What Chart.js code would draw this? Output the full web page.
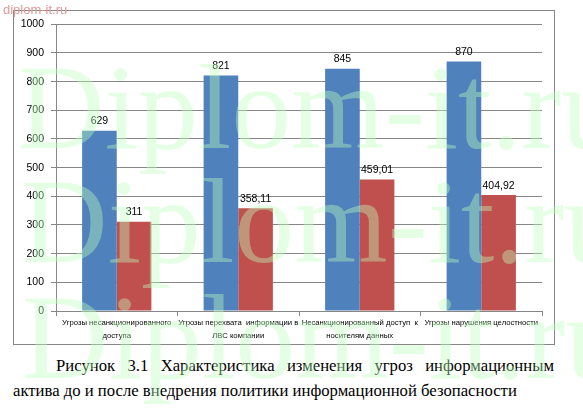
<!DOCTYPE html>
<html>
<head>
<meta charset="utf-8">
<script src="https://cdn.jsdelivr.net/npm/chart.js@4"></script>
<style>
  html, body { margin: 0; padding: 0; background: #fff; width: 583px; height: 409px; overflow: hidden; }
  #box { position: absolute; left: 13px; top: 10px; width: 542px; height: 335px; box-sizing: border-box; border: 1px solid #868686; }
  #box canvas { position: absolute; left: 0; top: 0; }
  .cap { position: absolute; font-family: "Liberation Serif", "Times New Roman", serif; font-size: 16.7px; line-height: 20px; color: #000; white-space: nowrap; }
  #cap1 { left: 56px; top: 356px; width: 498px; text-align: justify; text-align-last: justify; white-space: normal; }
  #cap2 { left: 13px; top: 381px; }
  #wm { position: absolute; left: 0; top: 0; pointer-events: none; }
  #wmSmall { position: absolute; left: 3px; top: 2px; font-family: "Liberation Sans", Arial, sans-serif; font-size: 13px; line-height: 15px; color: #e39a9a; }
</style>
</head>
<body>
<div id="box"><canvas id="c" width="540" height="333"></canvas></div>
<div class="cap" id="cap1">Рисунок 3.1 Характеристика изменения угроз информационным</div>
<div class="cap" id="cap2">актива до и после внедрения политики информационной безопасности</div>
<div id="wmSmall">diplom-it.ru</div>
<canvas id="wm" width="583" height="409"></canvas>
<script>
const categories = [
  ["Угрозы несанкционированного", "доступа"],
  ["Угрозы перехвата  информации в", "ЛВС компании"],
  ["Несанкционированный доступ  к", "носителям данных"],
  ["Угрозы нарушения целостности"]
];
const beforeValues = [629, 821, 845, 870];
const afterValues = [311, 358.11, 459.01, 404.92];
const yTicks = [0, 100, 200, 300, 400, 500, 600, 700, 800, 900, 1000];
const watermarkText = "Diplom-it.ru";

const valueLabels = {
  id: 'valueLabels',
  afterDatasetsDraw(chart) {
    const ctx = chart.ctx;
    ctx.save();
    ctx.font = '10.5px "Liberation Sans", Arial, sans-serif';
    ctx.fillStyle = '#000';
    ctx.textAlign = 'center';
    ctx.textBaseline = 'bottom';
    chart.data.datasets.forEach((ds, di) => {
      const meta = chart.getDatasetMeta(di);
      meta.data.forEach((bar, i) => {
        const txt = String(ds.data[i]).replace('.', ',');
        ctx.fillText(txt, bar.x, bar.y - 4);
      });
    });
    ctx.restore();
  }
};

new Chart(document.getElementById('c'), {
  type: 'bar',
  data: {
    labels: categories,
    datasets: [
      { label: 'До', data: beforeValues, backgroundColor: '#4F81BD', borderWidth: 0 },
      { label: 'После', data: afterValues, backgroundColor: '#C0504D', borderWidth: 0 }
    ]
  },
  options: {
    responsive: false,
    animation: false,
    devicePixelRatio: 1,
    layout: { padding: { left: 0, right: 12, top: 12, bottom: 0 } },
    plugins: { legend: { display: false }, tooltip: { enabled: false } },
    datasets: { bar: { categoryPercentage: 0.57, barPercentage: 1.0 } },
    scales: {
      x: {
        grid: { display: true, drawOnChartArea: false, drawTicks: true, tickLength: 5, color: '#868686', offset: true },
        border: { display: true, color: '#868686' },
        ticks: {
          autoSkip: false, maxRotation: 0, minRotation: 0, padding: 1,
          color: '#000',
          font: { family: '"Liberation Sans", Arial, sans-serif', size: 7.7, lineHeight: 1.65 }
        },
        afterFit(scale) { scale.height = 33; }
      },
      y: {
        min: 0, max: 1000,
        afterBuildTicks(scale) { scale.ticks = yTicks.map(v => ({ value: v })); },
        grid: { color: '#868686', tickLength: 5 },
        border: { display: true, color: '#868686' },
        ticks: {
          padding: 7, color: '#000',
          callback: (v) => String(v),
          font: { family: '"Liberation Sans", Arial, sans-serif', size: 10.5 }
        },
        afterFit(scale) { scale.width = 42; }
      }
    }
  },
  plugins: [valueLabels]
});

// watermark overlay (page decoration)
const wctx = document.getElementById('wm').getContext('2d');
wctx.font = '120px "Liberation Serif", "Times New Roman", serif';
wctx.fillStyle = 'rgba(191,255,191,0.40)';
wctx.textBaseline = 'alphabetic';
[[18, 148], [21, 262], [22, 378]].forEach(p => wctx.fillText(watermarkText, p[0], p[1]));
</script>
</body>
</html>
